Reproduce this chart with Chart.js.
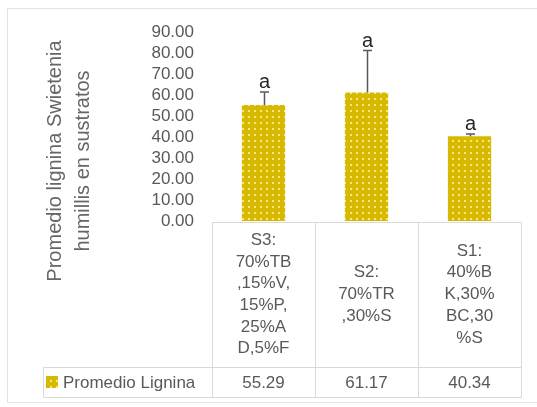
<!DOCTYPE html>
<html>
<head>
<meta charset="utf-8">
<script src="https://cdn.jsdelivr.net/npm/chart.js@4"></script>
<style>
  body { margin: 0; background: #ffffff; }
  canvas { display: block; }
</style>
</head>
<body>
<canvas id="ligninaChart" width="537" height="407"></canvas>
<script>
// data
var categories = [
    ['S3:', '70%TB', ',15%V,', '15%P,', '25%A', 'D,5%F'],
    ['S2:', '70%TR', ',30%S'],
    ['S1:', '40%B', 'K,30%', 'BC,30', '%S']
];
var ligninaValues = [55.29, 61.17, 40.34];
var errorValues = [6.1, 20.0, 1.1];
var groupLetters = ['a', 'a', 'a'];
var seriesName = 'Promedio Lignina';
var yTitleLines = ['Promedio lignina Swietenia', 'humillis en sustratos'];

var FONT = '"Liberation Sans", Arial, sans-serif';
var TEXT_GREY = '#595959';
var LINE_GREY = '#D9D9D9';

// yellow fill with small light dots
function dotPattern() {
    var c = document.createElement('canvas');
    c.width = 6;
    c.height = 6;
    var p = c.getContext('2d');
    p.fillStyle = '#D6B900';
    p.fillRect(0, 0, 6, 6);
    p.fillStyle = '#F5E97C';
    p.fillRect(2, 2, 2, 2);
    return p.createPattern(c, 'repeat');
}

var ctx = document.getElementById('ligninaChart').getContext('2d');
var barFill = dotPattern();

var backgroundPlugin = {
    id: 'whiteBackground',
    beforeDraw: function (chart) {
        var c = chart.ctx;
        c.save();
        c.fillStyle = '#ffffff';
        c.fillRect(0, 0, chart.width, chart.height);
        c.strokeStyle = '#E3E3E3';
        c.lineWidth = 1;
        c.strokeRect(7.5, 8.5, 540, 394);
        c.restore();
    }
};

var errorBarPlugin = {
    id: 'errorBars',
    afterDatasetsDraw: function (chart) {
        var c = chart.ctx;
        var y = chart.scales.y;
        var meta = chart.getDatasetMeta(0);
        c.save();
        meta.data.forEach(function (bar, i) {
            var top = y.getPixelForValue(ligninaValues[i] + errorValues[i]);
            var x = Math.round(bar.x) + 0.5;
            c.strokeStyle = '#595959';
            c.lineWidth = 1.5;
            c.beginPath();
            c.moveTo(x, bar.y);
            c.lineTo(x, top);
            c.moveTo(x - 4.5, top);
            c.lineTo(x + 4.5, top);
            c.stroke();
            c.fillStyle = '#262626';
            c.font = '20px ' + FONT;
            c.textAlign = 'center';
            c.textBaseline = 'alphabetic';
            c.fillText(groupLetters[i], x, top - 4);
        });
        c.restore();
    }
};

var yTitlePlugin = {
    id: 'yTitle',
    afterDraw: function (chart) {
        var c = chart.ctx;
        c.save();
        c.fillStyle = '#666666';
        c.font = '20px ' + FONT;
        c.textAlign = 'center';
        c.textBaseline = 'middle';
        c.translate(55, 161);
        c.rotate(-Math.PI / 2);
        yTitleLines.forEach(function (line, i) {
            c.fillText(line, 0, i * 28);
        });
        c.restore();
    }
};

var dataTablePlugin = {
    id: 'dataTable',
    afterDraw: function (chart) {
        var c = chart.ctx;
        var area = chart.chartArea;
        var xs = chart.scales.x;
        var n = categories.length;
        var colW = (area.right - area.left) / n;
        var rowTop = area.bottom + 1;
        var rowMid = 367;
        var rowBottom = 397;
        var tableLeft = 43;

        c.save();
        c.strokeStyle = LINE_GREY;
        c.lineWidth = 1;
        c.beginPath();
        // category row box
        c.moveTo(area.left + 0.5, rowTop + 0.5);
        c.lineTo(area.right + 0.5, rowTop + 0.5);
        // legend row box
        c.moveTo(tableLeft + 0.5, rowMid + 0.5);
        c.lineTo(area.right + 0.5, rowMid + 0.5);
        c.moveTo(tableLeft + 0.5, rowBottom + 0.5);
        c.lineTo(area.right + 0.5, rowBottom + 0.5);
        c.moveTo(tableLeft + 0.5, rowMid + 0.5);
        c.lineTo(tableLeft + 0.5, rowBottom + 0.5);
        for (var k = 0; k <= n; k++) {
            var lx = Math.round(area.left + k * colW) + 0.5;
            c.moveTo(lx, rowTop + 0.5);
            c.lineTo(lx, rowBottom + 0.5);
        }
        c.stroke();

        c.fillStyle = TEXT_GREY;
        c.font = '17px ' + FONT;
        c.textAlign = 'center';
        c.textBaseline = 'middle';
        var lh = 21.7;
        var catMid = (rowTop + rowMid) / 2;
        categories.forEach(function (lines, i) {
            var cx = xs.getPixelForValue(i);
            var start = catMid - (lines.length - 1) * lh / 2;
            lines.forEach(function (line, j) {
                c.fillText(line, cx, start + j * lh);
            });
            c.fillText(ligninaValues[i].toFixed(2), cx, (rowMid + rowBottom) / 2 + 1);
        });

        // legend key
        c.fillStyle = barFill;
        c.fillRect(46, 376, 12, 12);
        c.fillStyle = TEXT_GREY;
        c.textAlign = 'left';
        c.fillText(seriesName, 63, (rowMid + rowBottom) / 2 + 1);
        c.restore();
    }
};

new Chart(ctx, {
    type: 'bar',
    data: {
        labels: categories,
        datasets: [{
            label: seriesName,
            data: ligninaValues,
            backgroundColor: barFill,
            borderWidth: 0,
            categoryPercentage: 1,
            barPercentage: 0.42,
        }],
    },
    options: {
        responsive: false,
        animation: false,
        layout: {
            padding: { left: 0, right: 16, top: 32, bottom: 186 },
        },
        plugins: {
            legend: { display: false },
            tooltip: { enabled: false },
        },
        scales: {
            x: {
                display: false,
            },
            y: {
                min: 0,
                max: 90,
                afterFit: function (scale) {
                    scale.width = 212;
                },
                border: { display: false },
                grid: { display: false, drawTicks: false },
                ticks: {
                    stepSize: 10,
                    autoSkip: false,
                    padding: 18,
                    color: TEXT_GREY,
                    font: { family: FONT, size: 17 },
                    callback: function (value) {
                        return value.toFixed(2);
                    },
                },
            },
        },
    },
    plugins: [backgroundPlugin, errorBarPlugin, yTitlePlugin, dataTablePlugin],
});
</script>
</body>
</html>
